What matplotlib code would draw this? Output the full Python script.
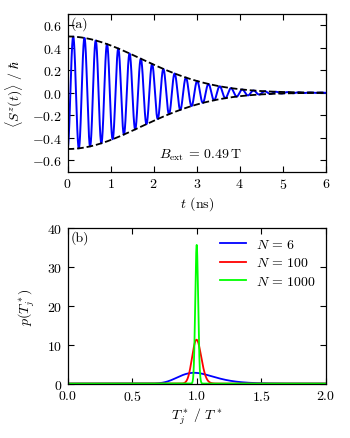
"""
Spin precession decay and distribution of T_j* for a finite nuclear bath
"""
import math
import numpy as np
import matplotlib
matplotlib.use("Agg")
import matplotlib.pyplot as plt

# --- values ---
S0 = 0.5            # initial <S^z> / hbar (starts at -S0)
T_STAR = 2.4        # ns, envelope 1/e time: exp(-(t/T*)^2)
PERIOD = 0.262      # ns, precession period at B_ext = 0.49 T
B_EXT = 0.49        # T
T_MAX = 6.0         # ns

N_values = [6, 100, 1000]
N_colors = ["#0000ff", "#ff0000", "#00ff00"]
dof_per_spin = 4    # chi^2 degrees of freedom per nuclear spin

top_yticks = [-0.6, -0.4, -0.2, 0.0, 0.2, 0.4, 0.6]
top_xticks = [0, 1, 2, 3, 4, 5, 6]
bot_yticks = [0, 10, 20, 30, 40]
bot_xticks = [0.0, 0.5, 1.0, 1.5, 2.0]

FS = 10
plt.rcParams["font.family"] = "serif"
plt.rcParams["font.serif"] = ["cmr10", "DejaVu Serif"]
plt.rcParams["mathtext.fontset"] = "cm"
plt.rcParams["axes.formatter.use_mathtext"] = True
plt.rcParams["font.size"] = FS
plt.rcParams["axes.unicode_minus"] = True


def style_axes(ax):
	ax.tick_params(direction="in", top=True, right=True, length=4, width=0.8, labelsize=FS, pad=4)
	for s in ax.spines.values():
		s.set_linewidth(0.9)


def envelope(t):
	return S0 * np.exp(-(t / T_STAR) ** 2)


def p_T(r, N):
	# T_j*/T* = X^(-1/2), X = chi2_k / k
	k = dof_per_spin * N
	x = r ** -2.0
	logf = (math.log(k) + (k / 2 - 1) * np.log(k * x) - k * x / 2
		- (k / 2) * math.log(2) - math.lgamma(k / 2))
	return np.exp(logf) * 2 * r ** -3.0


fig = plt.figure(figsize=(3.5, 4.39), dpi=100)

# (a) precession
ax1 = fig.add_axes([0.193, 0.607, 0.738, 0.359])
t = np.linspace(0, T_MAX, 3000)
sz = -envelope(t) * np.cos(2 * np.pi * t / PERIOD)
ax1.plot(t, sz, color="#0000ff", lw=1.4)
ax1.plot(t, envelope(t), "k--", lw=1.3)
ax1.plot(t, -envelope(t), "k--", lw=1.3)
ax1.set_xlim(0, T_MAX)
ax1.set_ylim(-0.7, 0.7)
ax1.set_xticks(top_xticks)
ax1.set_yticks(top_yticks)
ax1.set_xlabel(r"$t$ (ns)", labelpad=2)
ax1.set_ylabel(r"$\langle S^z(t)\rangle\ /\ \hbar$", labelpad=5)
ax1.text(0.01, 0.985, "(a)", transform=ax1.transAxes, ha="left", va="top")
ax1.text(3.08, -0.55, r"$B_{\rm ext}\,=\,%.2f\,{\rm T}$" % B_EXT, ha="center", va="center")
style_axes(ax1)

# (b) distribution of T_j*
ax2 = fig.add_axes([0.193, 0.124, 0.738, 0.354])
r = np.linspace(0.001, 2.0, 8000)
for N, c in zip(N_values, N_colors):
	ax2.plot(r, p_T(r, N), color=c, lw=1.3, label=r"$N\,=\,%d$" % N)
ax2.set_xlim(0, 2)
ax2.set_ylim(0, 40)
ax2.set_xticks(bot_xticks)
ax2.set_yticks(bot_yticks)
ax2.set_xlabel(r"$T_j^*\ /\ T^*$", labelpad=2)
ax2.set_ylabel(r"$p(T_j^*)$", labelpad=7)
ax2.text(0.01, 0.985, "(b)", transform=ax2.transAxes, ha="left", va="top")
ax2.legend(loc="upper right", frameon=False, handlelength=1.9, handletextpad=0.7,
	fontsize=FS, borderaxespad=0.3, labelspacing=0.4)
style_axes(ax2)

fig.savefig("out.png", dpi=100)
